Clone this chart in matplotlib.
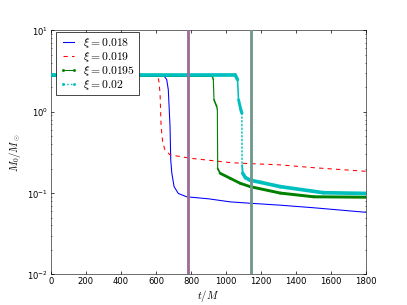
import numpy as np
import matplotlib
matplotlib.use("Agg")
import matplotlib.pyplot as plt
from matplotlib.collections import LineCollection
from matplotlib.lines import Line2D

plt.rcParams['mathtext.fontset'] = 'cm'
plt.rcParams['font.family'] = ['DejaVu Sans']
plt.rcParams['font.size'] = 12

# ---- data ----
t_018 = [0, 640, 661, 670, 680, 684, 690, 703, 727, 775, 900, 1023, 1137, 1309, 1500, 1800]
m_018 = [2.85, 2.85, 2.48, 1.87, 0.66, 0.255, 0.177, 0.12, 0.099, 0.090, 0.085, 0.078, 0.075, 0.071, 0.066, 0.058]

t_019 = [0, 605, 613, 623, 629, 638, 651, 680, 794, 1023, 1099, 1309, 1500, 1800]
m_019 = [2.85, 2.85, 2.73, 1.7, 0.66, 0.42, 0.34, 0.295, 0.268, 0.237, 0.232, 0.222, 0.205, 0.185]

t_0195 = [0, 918, 927, 931, 946, 950, 952, 966, 1023, 1080, 1137, 1309, 1500, 1800]
m_0195 = [2.85, 2.85, 2.48, 1.4, 1.16, 1.06, 0.20, 0.175, 0.152, 0.132, 0.12, 0.10, 0.09, 0.089]

t_02 = [0, 1051, 1065, 1071, 1084, 1090, 1091, 1095, 1110, 1137, 1200, 1309, 1556, 1800]
m_02 = [2.85, 2.85, 2.48, 1.4, 1.06, 0.96, 0.22, 0.175, 0.155, 0.144, 0.135, 0.12, 0.101, 0.099]

labels = [r'$\xi=0.018$', r'$\xi=0.019$', r'$\xi=0.0195$', r'$\xi=0.02$']
vlines_t = [783, 1143]
xticks = [0, 200, 400, 600, 800, 1000, 1200, 1400, 1600, 1800]

fig = plt.figure(figsize=(8, 6), dpi=50.875)
ax = fig.add_axes([0.125, 0.1, 0.775, 0.8])
ax.set_yscale('log')
ax.set_xlim(0, 1800)
ax.set_ylim(1e-2, 1e1)


def segmented(ax, t, m, color, thick_lw, thin_lw, steep_ls, scale, z):
    # densely sampled runs look thick; steep drops (sparse in display) look thin
    t = np.asarray(t, float)
    m = np.asarray(m, float)
    segs, lws, lss = [], [], []
    for i in range(len(t) - 1):
        dx = (t[i + 1] - t[i]) * 0.175
        dy = abs(np.log10(m[i + 1]) - np.log10(m[i])) * 81
        ratio = dy / max(dx, 1e-9)
        segs.append([(t[i], m[i]), (t[i + 1], m[i + 1])])
        lws.append(thin_lw + (thick_lw - thin_lw) / (1 + (ratio / scale) ** 2))
        lss.append(steep_ls if ratio > 50 else '-')
    lc = LineCollection(segs, colors=color, linewidths=lws, linestyles=lss,
                        zorder=z, capstyle='round', joinstyle='round')
    ax.add_collection(lc)


ax.plot(t_018, m_018, color='b', lw=1.5, zorder=2)
ax.plot(t_019, m_019, color='r', lw=1.5, ls='--', dashes=(4, 4), zorder=3)
segmented(ax, t_0195, m_0195, 'g', 4.2, 1.6, '-', 1.5, 4)
segmented(ax, t_02, m_02, 'c', 5.2, 2.0, ':', 6, 5)

ax.axvline(vlines_t[0], color='#9c6d96', lw=4, zorder=6)
ax.axvline(vlines_t[1], color='#70978a', lw=4, zorder=6)

ax.set_xticks(xticks)
ax.tick_params(which='both', direction='in', top=True, right=True)
ax.tick_params(which='major', length=4, width=1, labelsize=12)
ax.tick_params(which='minor', length=2, width=0.8)
ax.set_xlabel(r'$t/M$', fontsize=15, labelpad=3)
ax.set_ylabel(r'$M_0/M_\odot$', fontsize=15, labelpad=6)

handles = [
    Line2D([], [], color='b', lw=1.5),
    Line2D([], [], color='r', lw=1.5, ls='--', dashes=(4, 4)),
    Line2D([], [], color='g', lw=1.5, marker='.', markersize=6),
    Line2D([], [], color='c', lw=2.0, ls=':', marker='.', markersize=6),
]
leg = ax.legend(handles, labels, loc='upper left', bbox_to_anchor=(0.015, 0.992),
                fontsize=16.5, numpoints=2,
                fancybox=False, framealpha=1, edgecolor='black',
                borderaxespad=0.0, borderpad=0.3, labelspacing=0.0,
                handlelength=1.6, handletextpad=0.45)
leg.get_frame().set_linewidth(1.0)
leg.set_zorder(10)

fig.savefig('out.png', dpi=50.875)
